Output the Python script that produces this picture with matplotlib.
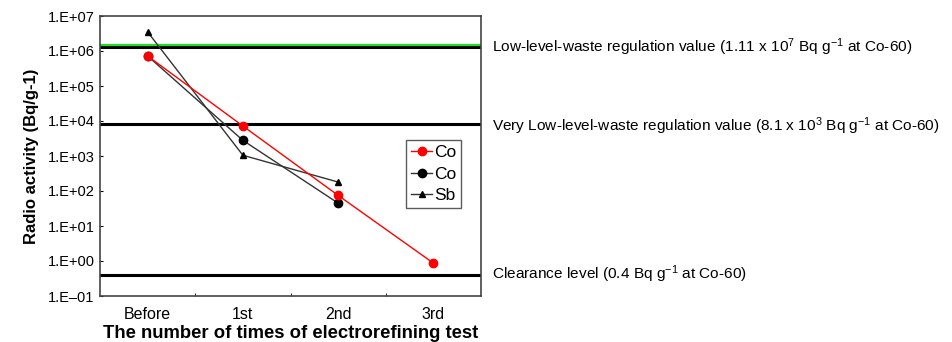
import numpy as np
import matplotlib.pyplot as plt

plt.rcParams['font.family'] = ['Liberation Sans', 'DejaVu Sans']
plt.rcParams['mathtext.fontset'] = 'custom'
plt.rcParams['mathtext.rm'] = 'Liberation Sans'
plt.rcParams['mathtext.it'] = 'Liberation Sans:italic'
plt.rcParams['mathtext.bf'] = 'Liberation Sans:bold'

categories = ['Before', '1st', '2nd', '3rd']
co_red = [7.2e5, 7.2e3, 75, 0.87]
co_black = [7.2e5, 2.8e3, 45]
sb = [3.5e6, 1.05e3, 180]

ytick_vals = [1e-1, 1e0, 1e1, 1e2, 1e3, 1e4, 1e5, 1e6, 1e7]
ytick_labels = ['1.E\u201301', '1.E+00', '1.E+01', '1.E+02', '1.E+03',
                '1.E+04', '1.E+05', '1.E+06', '1.E+07']

low_level = 1.3e6
very_low = 8.1e3
clearance = 0.4

fig = plt.figure(figsize=(9.52, 3.42), dpi=100)
ax = fig.add_axes([100/952, 1 - 296/342, 381/952, 280/342])

x = np.arange(len(categories))

# regulation lines
ax.axhline(low_level, color='black', lw=2.2, zorder=1)
ax.axhline(low_level * 1.14, color='#22dd22', lw=1.6, zorder=1)
ax.axhline(very_low, color='black', lw=2.2, zorder=1)
ax.axhline(clearance, color='black', lw=2.2, zorder=1)

ax.plot(x[:len(co_black)], co_black, color='#333333', lw=1, marker='o', ms=6,
        mfc='black', mec='black', label='Co', zorder=3)
ax.plot(x[:len(sb)], sb, color='#333333', lw=1, marker='^', ms=5,
        mfc='black', mec='black', label='Sb', zorder=3)
ax.plot(x, co_red, color='red', lw=1, marker='o', ms=6,
        mfc='red', mec='red', label='Co', zorder=4)

ax.set_yscale('log')
ax.set_ylim(1e-1, 1e7)
ax.set_xlim(-0.5, 3.5)
ax.set_yticks(ytick_vals)
ax.set_yticklabels(ytick_labels, fontsize=10.5)
ax.yaxis.set_minor_locator(plt.NullLocator())
ax.set_xticks(x)
ax.set_xticklabels(categories, fontsize=11.5)
ax.set_xticks([0.5, 1.5, 2.5], minor=True)
ax.tick_params(axis='x', which='major', length=0, pad=8)
ax.tick_params(axis='x', which='minor', direction='in', length=2)
ax.tick_params(axis='y', direction='in', length=2, pad=4)
for s in ax.spines.values():
    s.set_color('#444444')
    s.set_linewidth(1.2)

ax.set_ylabel('Radio activity (Bq/g-1)', fontsize=12, fontweight='bold', labelpad=6)
ax.set_xlabel('The number of times of electrorefining test', fontsize=13.3,
              fontweight='bold', labelpad=2)

# legend in the order red Co, black Co, Sb
h, l = ax.get_legend_handles_labels()
leg = ax.legend([h[2], h[0], h[1]], [l[2], l[0], l[1]], loc='upper left',
                bbox_to_anchor=(306/381, 1 - 124/280), fontsize=12.5,
                frameon=True, fancybox=False, handlelength=1.2,
                handletextpad=0.1, borderpad=0.3, labelspacing=0.35,
                borderaxespad=0)
leg.get_frame().set_edgecolor('#333333')
leg.get_frame().set_linewidth(1)

# annotations right of the axes
tx = 492 / 952
fs = 11.1
fig.text(tx, 1 - 47/342,
         r'Low-level-waste regulation value (1.11 x 10$^{7}$ Bq g$^{\mathrm{-1}}$ at Co-60)',
         fontsize=fs, va='center')
fig.text(tx, 1 - 126/342,
         r'Very Low-level-waste regulation value (8.1 x 10$^{3}$ Bq g$^{\mathrm{-1}}$ at Co-60)',
         fontsize=fs, va='center')
fig.text(tx, 1 - 274/342,
         r'Clearance level (0.4 Bq g$^{\mathrm{-1}}$ at Co-60)',
         fontsize=fs, va='center')

fig.savefig('out.png', dpi=100)
